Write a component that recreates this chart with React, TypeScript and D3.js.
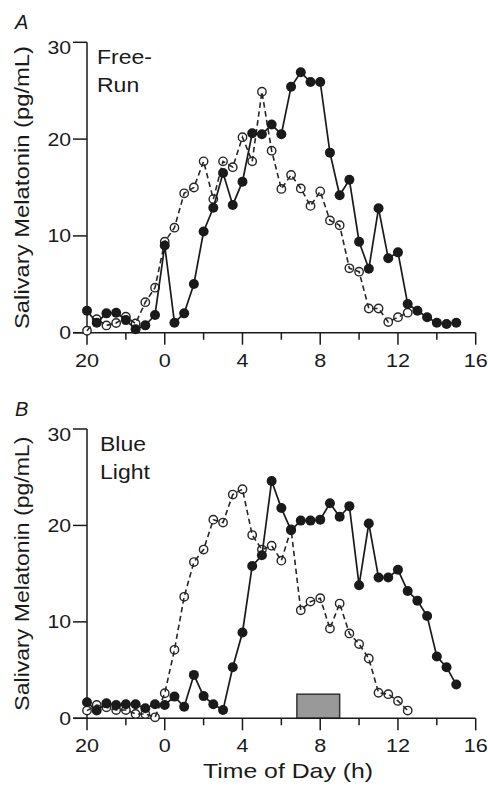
import React from "react";
import * as d3 from "d3";

// Time of day (hours relative to midnight; -4 = 20:00)
const timesFull = [-4, -3.5, -3, -2.5, -2, -1.5, -1, -0.5, 0, 0.5, 1, 1.5, 2, 2.5, 3, 3.5, 4, 4.5, 5, 5.5, 6, 6.5, 7, 7.5, 8, 8.5, 9, 9.5, 10, 10.5, 11, 11.5, 12, 12.5, 13, 13.5, 14, 14.5, 15];
const timesShort = [-4, -3.5, -3, -2.5, -2, -1.5, -1, -0.5, 0, 0.5, 1, 1.5, 2, 2.5, 3, 3.5, 4, 4.5, 5, 5.5, 6, 6.5, 7, 7.5, 8, 8.5, 9, 9.5, 10, 10.5, 11, 11.5, 12, 12.5];

// Panel A: Free-Run
const freeRunFilled = [2.27, 1.03, 2.0, 2.07, 1.3, 0.35, 0.76, 1.83, 9.0, 1.03, 2.0, 5.03, 10.45, 12.9, 16.5, 13.2, 15.6, 20.6, 20.5, 21.5, 20.5, 25.4, 26.9, 25.9, 25.9, 18.6, 14.2, 15.8, 9.4, 6.6, 12.85, 7.7, 8.3, 2.96, 2.27, 1.59, 1.03, 0.9, 1.03];
const freeRunOpen = [0.2, 1.4, 0.75, 1.0, 1.65, 0.95, 3.15, 4.65, 9.4, 10.85, 14.4, 15.0, 17.7, 13.8, 17.7, 17.1, 20.2, 17.7, 24.9, 18.8, 14.85, 16.3, 14.9, 13.1, 14.6, 11.6, 11.1, 6.65, 6.3, 2.5, 2.5, 1.1, 1.6, 2.07];

// Panel B: Blue Light
const blueFilled = [1.66, 0.8, 1.55, 1.38, 1.45, 1.45, 1.05, 1.45, 1.38, 2.25, 1.2, 4.5, 2.3, 1.45, 0.86, 5.3, 8.9, 15.8, 16.9, 24.6, 21.8, 19.5, 20.5, 20.5, 20.6, 22.3, 20.9, 22.0, 13.8, 20.2, 14.6, 14.6, 15.4, 13.2, 12.2, 10.6, 6.4, 5.3, 3.5];
const blueOpen = [0.8, 1.38, 1.14, 0.86, 0.86, 0.45, 0.45, 0.1, 2.6, 7.1, 12.6, 16.2, 17.5, 20.6, 20.3, 23.2, 23.75, 19.0, 17.5, 17.9, 16.35, 19.6, 11.2, 12.1, 12.45, 9.3, 11.9, 8.8, 7.7, 6.2, 2.65, 2.5, 1.8, 0.8];

// Blue light exposure window (hours) and its bar height
const lightWindow = [6.8, 9.0];
const lightLevel = 2.5;

const xTickValues = [-4, 0, 4, 8, 12, 16];
const xTickLabels = ["20", "0", "4", "8", "12", "16"];
const xMinorTicks = [-2, 2, 6, 10, 14];
const yTickValues = [0, 10, 20, 30];

const FONT = "'Liberation Sans', Arial, Helvetica, sans-serif";
const INK = "#1a1a1a";

type PanelProps = {
  letter: string;
  title: string[];
  titleX: number;
  filled: number[];
  open: number[];
  top: number;
  bottom: number;
  yLabelLen: number;
  showLight?: boolean;
};

const x = d3.scaleLinear().domain([-4, 16]).range([87, 475.7]);

function Panel({ letter, title, titleX, filled, open, top, bottom, yLabelLen, showLight }: PanelProps) {
  const y = d3.scaleLinear().domain([0, 30]).range([bottom, top]);
  const filledPts = timesFull.map((t, i) => [t, filled[i]] as [number, number]);
  const openPts = timesShort.map((t, i) => [t, open[i]] as [number, number]);
  const line = d3
    .line<[number, number]>()
    .x((d) => x(d[0]))
    .y((d) => y(d[1]));
  const axisLeft = 73;
  return (
    <g>
      {/* panel letter */}
      <text x={15} y={top - 13.5} fontFamily={FONT} fontStyle="italic" fontSize={20} fill={INK}>
        {letter}
      </text>
      {/* condition title */}
      {title.map((t, i) => (
        <text
          key={i}
          transform={`translate(${titleX},${top + 21.5 + i * 28}) scale(1.18,1)`}
          fontFamily={FONT}
          fontSize={19.5}
          fill={INK}
        >
          {t}
        </text>
      ))}
      {/* y label */}
      <text
        transform={`translate(29,${(top + bottom) / 2}) rotate(-90)`}
        textAnchor="middle"
        fontFamily={FONT}
        fontSize={21}
        fill={INK}
        textLength={yLabelLen}
        lengthAdjust="spacingAndGlyphs"
      >
        Salivary Melatonin (pg/mL)
      </text>
      {/* light box */}
      {showLight && (
        <rect
          x={x(lightWindow[0])}
          y={y(lightLevel)}
          width={x(lightWindow[1]) - x(lightWindow[0])}
          height={y(0) - y(lightLevel)}
          fill="#999999"
          stroke="#333"
          strokeWidth={1.5}
        />
      )}
      {/* axes */}
      <line x1={x(-4)} x2={x(-4)} y1={y(30)} y2={y(0)} stroke={INK} strokeWidth={1.5} />
      <line x1={axisLeft} x2={x(16)} y1={y(0)} y2={y(0)} stroke={INK} strokeWidth={1.5} />
      {yTickValues.map((v) => (
        <g key={v}>
          <line x1={axisLeft} x2={x(-4)} y1={y(v)} y2={y(v)} stroke={INK} strokeWidth={1.5} />
          <text
            transform={`translate(71,${y(v) + (v === 30 ? 5.5 : 0)}) scale(1.18,1)`}
            dy="0.36em"
            textAnchor="end"
            fontFamily={FONT}
            fontSize={18}
            fill={INK}
          >
            {v}
          </text>
        </g>
      ))}
      {xTickValues.map((v, i) => (
        <g key={v}>
          <line x1={x(v)} x2={x(v)} y1={y(0)} y2={y(0) + 12} stroke={INK} strokeWidth={1.5} />
          <text
            transform={`translate(${x(v)},${y(0) + 27.5}) scale(1.2,1)`}
            dy="0.36em"
            textAnchor="middle"
            fontFamily={FONT}
            fontSize={18}
            fill={INK}
          >
            {xTickLabels[i]}
          </text>
        </g>
      ))}
      {xMinorTicks.map((v) => (
        <line key={v} x1={x(v)} x2={x(v)} y1={y(0)} y2={y(0) + 7} stroke={INK} strokeWidth={1.5} />
      ))}
      {/* open series */}
      {openPts.map((d, i) => (
        <circle key={i} cx={x(d[0])} cy={y(d[1])} r={4.2} fill="#fff" stroke="#262626" strokeWidth={1.4} />
      ))}
      <path d={line(openPts) || ""} fill="none" stroke="#262626" strokeWidth={1.6} strokeDasharray="5.5,3.5" />
      {/* filled series */}
      <path d={line(filledPts) || ""} fill="none" stroke={INK} strokeWidth={1.7} />
      {filledPts.map((d, i) => (
        <circle key={i} cx={x(d[0])} cy={y(d[1])} r={5} fill={INK} />
      ))}
    </g>
  );
}

export default function App() {
  return (
    <svg
      width={488}
      height={788}
      style={{ position: "absolute", left: 0, top: 0, background: "#fff" }}
    >
      <rect width={488} height={788} fill="#fff" />
      <Panel
        letter="A"
        title={["Free-", "Run"]}
        titleX={97}
        filled={freeRunFilled}
        open={freeRunOpen}
        top={42.3}
        bottom={332.7}
        yLabelLen={283}
      />
      <Panel
        letter="B"
        title={["Blue", "Light"]}
        titleX={100}
        filled={blueFilled}
        open={blueOpen}
        top={429}
        bottom={718.3}
        yLabelLen={274}
        showLight
      />
      <text
        x={288}
        y={778}
        textAnchor="middle"
        fontFamily={FONT}
        fontSize={21}
        fill={INK}
        textLength={170}
        lengthAdjust="spacingAndGlyphs"
      >
        Time of Day (h)
      </text>
    </svg>
  );
}
